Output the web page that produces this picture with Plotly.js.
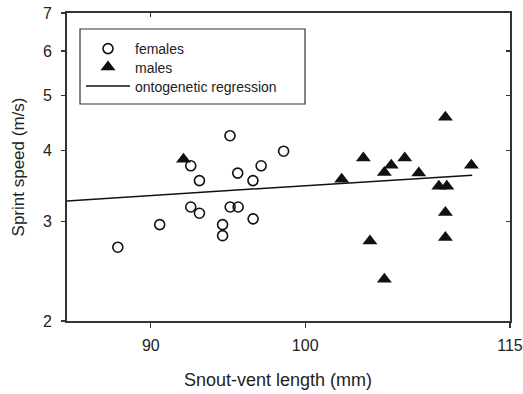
<!DOCTYPE html>
<html>
<head>
<meta charset="utf-8">
<script src="https://cdn.plot.ly/plotly-3.0.1.min.js"></script>
<style>html,body{margin:0;padding:0;background:#fff;}#chart{width:523px;height:394px;}</style>
</head>
<body>
<div id="chart"></div>
<script>
// Females (open circles)
var femaleSVL = [88.0, 90.55, 92.49, 93.04, 94.52, 94.52, 95.01, 95.53, 96.51, 95.0, 92.49, 93.04, 95.5, 96.5, 97.04, 98.54];
var femaleSpeed = [2.70, 2.96, 3.18, 3.10, 2.96, 2.83, 3.18, 3.18, 3.03, 4.25, 3.76, 3.54, 3.65, 3.54, 3.76, 3.99];
// Males (filled triangles)
var maleSVL = [92.03, 110.04, 104.05, 107.03, 106.05, 105.55, 108.06, 102.52, 112.01, 109.55, 110.15, 110.04, 110.04, 104.52, 105.55];
var maleSpeed = [3.86, 4.58, 3.88, 3.88, 3.77, 3.66, 3.65, 3.56, 3.77, 3.46, 3.46, 3.11, 2.81, 2.77, 2.37];
// Ontogenetic regression line endpoints
var regSVL = [85.0, 112.07];
var regSpeed = [3.26, 3.62];
// Axis ticks
var xTicks = [90, 100, 115];
var yTicks = [2, 3, 4, 5, 6, 7];
var xRange = [85, 115];
var yRange = [2, 7];
var xTitle = 'Snout-vent length (mm)';
var yTitle = 'Sprint speed (m/s)';

var axisColor = '#333';
var font = 'Liberation Sans, Arial, sans-serif';

var traces = [
  {x: regSVL, y: regSpeed, mode: 'lines', name: 'ontogenetic regression', legend: 'legend3',
   line: {color: '#111', width: 1.5}, hoverinfo: 'skip'},
  {x: femaleSVL, y: femaleSpeed, mode: 'markers', name: 'females', legend: 'legend',
   marker: {symbol: 'circle-open', size: 10, color: '#111', line: {width: 1.6, color: '#111'}}},
  {x: maleSVL, y: maleSpeed, mode: 'markers', name: 'males', legend: 'legend2',
   marker: {symbol: 'triangle-up', size: 13, color: '#111'}},
  {x: regSVL, y: regSpeed, mode: 'lines', xaxis: 'x2', yaxis: 'y2', showlegend: false,
   hoverinfo: 'skip', line: {width: 0, color: 'rgba(0,0,0,0)'}, opacity: 0}
];

var W = 523, H = 394, L = 67, R = 13, T = 13, B = 73;
var pw = W - L - R, ph = H - T - B;
function px(xp){ return (xp - L) / pw; }
function py(yp){ return 1 - (yp - T) / ph; }

function leg(yc){
  return {x: px(81), y: py(yc), xanchor: 'left', yanchor: 'middle',
          bgcolor: 'rgba(0,0,0,0)', borderwidth: 0, itemwidth: 44,
          font: {size: 14, family: font, color: '#222'}};
}

var layout = {
  width: W, height: H,
  margin: {l: L, r: R, t: T, b: B},
  paper_bgcolor: '#fff', plot_bgcolor: '#fff',
  font: {family: font, color: '#222', size: 14},
  showlegend: true,
  legend: leg(49),
  legend2: leg(67.5),
  legend3: leg(86.5),
  xaxis: {type: 'log', range: xRange.map(Math.log10), tickvals: xTicks, ticktext: xTicks.map(String),
          ticks: 'outside', ticklen: 5, tickwidth: 1.2, tickcolor: axisColor,
          showline: true, linecolor: axisColor, linewidth: 1.8, showgrid: false, zeroline: false,
          tickfont: {size: 16, family: font, color: '#222'}, ticklabelstandoff: 4},
  yaxis: {type: 'log', range: yRange.map(Math.log10), tickvals: yTicks, ticktext: yTicks.map(String),
          ticks: 'outside', ticklen: 4, tickwidth: 1.2, tickcolor: axisColor,
          showline: true, linecolor: axisColor, linewidth: 1.8, showgrid: false, zeroline: false,
          tickfont: {size: 16, family: font, color: '#222'}, ticklabelstandoff: 6,
          title: {text: yTitle, font: {size: 17, family: font, color: '#222'}, standoff: 14}},
  xaxis2: {type: 'log', overlaying: 'x', side: 'top', anchor: 'y', range: xRange.map(Math.log10),
           tickvals: [90], ticks: 'inside', ticklen: 4, tickwidth: 1.2, tickcolor: axisColor,
           showticklabels: false, showline: true, linecolor: axisColor, linewidth: 1.8,
           showgrid: false, zeroline: false},
  yaxis2: {type: 'log', overlaying: 'y', side: 'right', anchor: 'x', range: yRange.map(Math.log10),
           tickvals: [3, 4, 5, 6], ticks: 'inside', ticklen: 4, tickwidth: 1.2, tickcolor: axisColor,
           showticklabels: false, showline: true, linecolor: axisColor, linewidth: 1.8,
           showgrid: false, zeroline: false},
  annotations: [{text: xTitle, xref: 'paper', yref: 'paper', x: px(278), y: py(380),
                 xanchor: 'center', yanchor: 'middle', showarrow: false,
                 font: {size: 18, family: font, color: '#222'}}],
  shapes: [{type: 'rect', xref: 'paper', yref: 'paper', x0: px(80), x1: px(305), y0: py(104), y1: py(29),
            line: {color: axisColor, width: 1.2}, fillcolor: 'rgba(0,0,0,0)', layer: 'below'}]
};

Plotly.newPlot('chart', traces, layout, {staticPlot: true, displayModeBar: false});
</script>
</body>
</html>
